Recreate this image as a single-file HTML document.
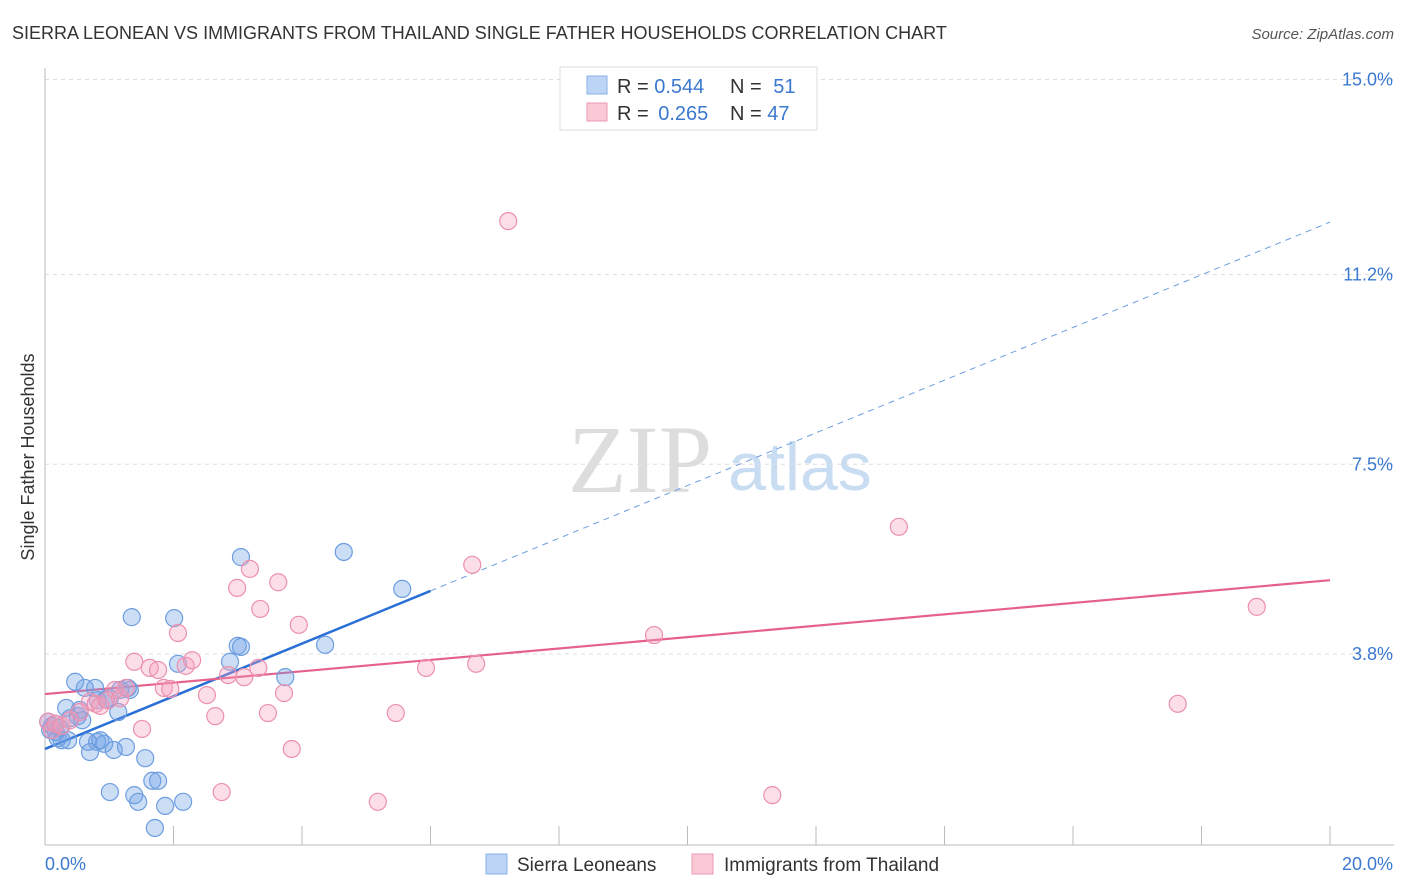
<!DOCTYPE html>
<html><head><meta charset="utf-8"><style>
body{margin:0;background:#fff;font-family:"Liberation Sans",sans-serif;}
svg{display:block}
</style></head><body>
<svg id="chart" width="1406" height="892" viewBox="0 0 1406 892">
<text x="12" y="39" font-size="18" fill="#333">SIERRA LEONEAN VS IMMIGRANTS FROM THAILAND SINGLE FATHER HOUSEHOLDS CORRELATION CHART</text>
<text x="1394" y="39" font-size="15" fill="#555" font-style="italic" text-anchor="end">Source: ZipAtlas.com</text>
<text x="640" y="492" font-size="96" fill="#ddd" font-family="Liberation Serif" text-anchor="middle">ZIP</text>
<text x="800" y="490" font-size="68" fill="#c8dcf2" text-anchor="middle">atlas</text>
<text transform="translate(34,457) rotate(-90)" font-size="18" fill="#333" text-anchor="middle">Single Father Households</text>
<g id="grid"></g><g id="ticks"></g><g id="lines"></g><g id="pts"></g>
<g>
<rect x="560" y="67" width="257" height="63" fill="#fff" stroke="#ddd"/>
<rect x="587" y="76" width="20" height="18" fill="#bcd4f6" stroke="#8ab0e8"/>
<rect x="587" y="103" width="20" height="18" fill="#fbc8d6" stroke="#ee9ab4"/>
<text x="617" y="93" font-size="20" fill="#333">R = <tspan fill="#3b78d0">0.544</tspan></text>
<text x="730" y="93" font-size="20" fill="#333">N = <tspan fill="#3b78d0" dx="6">51</tspan></text>
<text x="617" y="120" font-size="20" fill="#333">R = <tspan fill="#3b78d0" dx="4">0.265</tspan></text>
<text x="730" y="120" font-size="20" fill="#333">N = <tspan fill="#3b78d0">47</tspan></text>
</g>
<g>
<rect x="486" y="854" width="21" height="20" fill="#bcd4f6" stroke="#8ab0e8"/>
<text x="517" y="871" font-size="19" fill="#333">Sierra Leoneans</text>
<rect x="692" y="854" width="21" height="20" fill="#fbc8d6" stroke="#ee9ab4"/>
<text x="724" y="871" font-size="19" fill="#333">Immigrants from Thailand</text>
</g>
</svg>
<script>
const yTicks=[3.8,7.5,11.2,15.0];
const yTickLabels=["3.8%","7.5%","11.2%","15.0%"];
const xTickLabels=["0.0%","20.0%"];
const blueX=[.05,.11,.16,.20,.26,.33,.36,.47,.51,.54,.62,.67,.70,.78,.81,.82,.86,.92,.95,1.01,1.07,1.14,1.26,1.29,1.35,1.39,1.45,1.56,1.67,1.71,1.76,1.87,2.01,2.07,2.15,2.88,3.00,3.05,3.05,3.74,4.36,4.65,5.56,.23,.39,.58,.17,.08,1.17,1.01,1.32];
const blueY=[2.48,2.40,2.44,2.16,2.12,2.75,2.12,3.26,2.59,2.71,3.14,2.09,1.89,3.14,2.09,2.90,2.12,2.05,2.92,1.11,1.93,2.67,1.99,3.14,4.52,1.05,0.92,1.77,1.33,0.41,1.33,0.84,4.50,3.61,0.92,3.65,3.96,3.94,5.69,3.35,3.98,5.79,5.07,2.36,2.55,2.51,2.28,2.32,3.10,2.94,3.10];
const pinkX=[.05,.11,.17,.26,.39,.54,.70,.79,.86,.98,1.09,1.17,1.26,1.39,1.51,1.63,1.76,1.85,1.95,2.07,2.19,2.29,2.52,2.65,2.75,2.85,2.99,3.10,3.19,3.32,3.35,3.47,3.63,3.72,3.84,3.95,5.18,5.46,5.93,6.65,6.71,7.21,9.48,11.32,13.29,17.63,18.86];
const pinkY=[2.48,2.32,2.44,2.40,2.51,2.67,2.87,2.83,2.79,2.90,3.10,2.94,3.14,3.65,2.34,3.53,3.49,3.14,3.12,4.21,3.57,3.68,3.00,2.59,1.11,3.39,5.09,3.35,5.46,3.53,4.68,2.65,5.20,3.04,1.95,4.37,0.92,2.65,3.53,5.54,3.61,12.24,4.17,1.05,6.28,2.83,4.72];
const blueTrend=[1.95,12.22];
const pinkTrend=[3.02,5.24];
const blueSolidEnd=6.0;
const NS="http://www.w3.org/2000/svg";
const sx=v=>45+v*64.25, sy=v=>849-v*51.3;
function mk(t,a,p){const e=document.createElementNS(NS,t);for(const k in a)e.setAttribute(k,a[k]);p.appendChild(e);return e;}
const grid=document.getElementById('grid'),ticks=document.getElementById('ticks'),lines=document.getElementById('lines'),pts=document.getElementById('pts');
yTicks.forEach((v,i)=>{
 const g=mk('line',{x1:45,x2:1394,y1:sy(v),y2:sy(v),stroke:'#ddd','stroke-dasharray':'4,4'},grid);
 
 
 const t=mk('text',{x:1393,y:sy(v)+6,'font-size':18,fill:'#3b78d0','text-anchor':'end'},ticks);
 t.textContent=yTickLabels[i];
 
 
});
const ax=mk('line',{x1:45,x2:1394,y1:845,y2:845,stroke:'#bbb'},ticks);


const ay=mk('line',{x1:45,x2:45,y1:68,y2:845,stroke:'#bbb'},ticks);


for(let i=1;i<=10;i++){const x=sx(i*2);const t=mk('line',{x1:x,x2:x,y1:826,y2:845,stroke:'#bbb'},ticks);
 
 }
const xl0=mk('text',{x:45,y:870,'font-size':18,fill:'#3b78d0'},ticks);xl0.textContent=xTickLabels[0];


const xl1=mk('text',{x:1393,y:870,'font-size':18,fill:'#3b78d0','text-anchor':'end'},ticks);xl1.textContent=xTickLabels[1];


function drawPts(X,Y,fill,stroke,name){X.forEach((x,i)=>{const c=mk('circle',{cx:sx(x),cy:sy(Y[i]),r:8.5,fill:fill,stroke:stroke,'stroke-width':1.2},pts);
 
 });}
drawPts(blueX,blueY,'rgba(110,160,230,0.35)','#6c9de0','point-sierra-leonean');
drawPts(pinkX,pinkY,'rgba(245,160,190,0.35)','#ec90ae','point-thailand');
const by=x=>blueTrend[0]+(blueTrend[1]-blueTrend[0])*x/20;
const bs=mk('line',{x1:sx(0),y1:sy(by(0)),x2:sx(blueSolidEnd),y2:sy(by(blueSolidEnd)),stroke:'#2a6fd6','stroke-width':2.5},lines);


const bd=mk('line',{x1:sx(blueSolidEnd),y1:sy(by(blueSolidEnd)),x2:sx(20),y2:sy(by(20)),stroke:'#6c9de0','stroke-width':1,'stroke-dasharray':'6,5'},lines);


const pl=mk('line',{x1:sx(0),y1:sy(pinkTrend[0]),x2:sx(20),y2:sy(pinkTrend[1]),stroke:'#e5608c','stroke-width':2.2},lines);


</script>
</body></html>
